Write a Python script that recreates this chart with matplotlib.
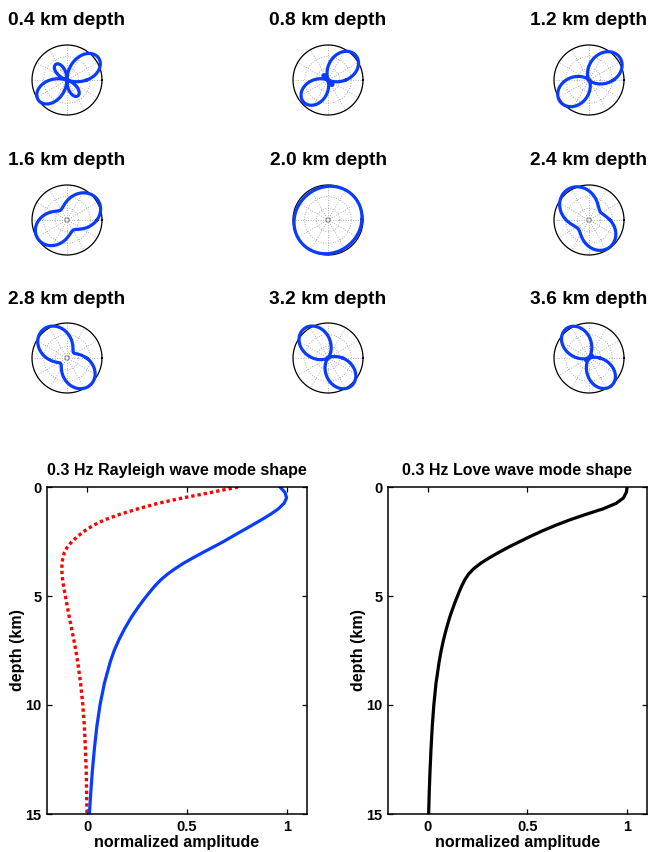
import numpy as np
import matplotlib
matplotlib.use("Agg")
import matplotlib.pyplot as plt

plt.rcParams['font.family'] = ['Liberation Sans', 'DejaVu Sans']
plt.rcParams['font.weight'] = 'bold'

# ---- azimuthal amplitude patterns (harmonic coefficients, unit = outer ring) ----
depth_labels = ["0.4 km depth", "0.8 km depth", "1.2 km depth",
                "1.6 km depth", "2.0 km depth", "2.4 km depth",
                "2.8 km depth", "3.2 km depth", "3.6 km depth"]
iso_term = [0.25, 0.40, 0.53, 0.68, 0.965, 0.71, 0.64, 0.52, 0.46]
quad_term = [0.80, 0.60, 0.53, 0.34, 0.035, 0.31, 0.40, 0.54, 0.58]
quad_azimuth = [35, 42, 37, 32, 42, 127, 130, 130, 128]
dip_term = [0.05, 0.06, 0.03, 0.03, 0.0, 0.045, 0.02, 0.02, 0.02]
dip_azimuth = [35, 42, 37, 30, 0, 127, 130, 130, 128]

# ---- 0.3 Hz mode shapes vs depth ----
depth_km = [0, 0.25, 0.5, 0.75, 1.0, 1.25, 1.5, 1.75, 2.0, 2.25, 2.5, 2.75,
            3.0, 3.25, 3.5, 3.75, 4.0, 4.25, 4.5, 4.75, 5.0, 5.25, 5.5, 5.75,
            6.0, 6.5, 7.0, 7.5, 8.0, 9.0, 10.0, 11.0, 12.0, 13.0, 14.0, 15.0]
rayleigh_a = [0.965, 0.99, 0.998, 0.985, 0.957, 0.918, 0.873, 0.826, 0.778,
              0.73, 0.683, 0.632, 0.58, 0.53, 0.482, 0.44, 0.402, 0.37, 0.343,
              0.32, 0.298, 0.277, 0.257, 0.238, 0.22, 0.188, 0.16, 0.136,
              0.117, 0.087, 0.065, 0.049, 0.037, 0.027, 0.019, 0.012]
rayleigh_b = [0.755, 0.62, 0.48, 0.355, 0.255, 0.165, 0.09, 0.033, -0.01,
              -0.045, -0.075, -0.098, -0.113, -0.121, -0.125, -0.126, -0.125,
              -0.122, -0.118, -0.113, -0.108, -0.103, -0.098, -0.093, -0.088,
              -0.077, -0.066, -0.056, -0.047, -0.032, -0.021, -0.013, -0.008,
              -0.004, -0.002, 0.0]
love = [1.0, 0.996, 0.982, 0.945, 0.88, 0.795, 0.715, 0.643, 0.578, 0.518,
        0.462, 0.407, 0.356, 0.308, 0.265, 0.23, 0.204, 0.186, 0.172, 0.16,
        0.149, 0.138, 0.128, 0.118, 0.109, 0.093, 0.079, 0.067, 0.057, 0.041,
        0.03, 0.022, 0.016, 0.011, 0.007, 0.004]

BLUE = '#0a3cff'
RED = '#ff0000'

W, H = 650, 852
fig = plt.figure(figsize=(W / 100, H / 100), dpi=100)


def px_rect(x0, y0, x1, y1):
    return [x0 / W, 1 - y1 / H, (x1 - x0) / W, (y1 - y0) / H]


col_x = [67, 328, 589]
row_y = [80, 220, 358]
baseline_y = [25, 165, 304]
R = 35.0   # outer ring radius in pixels
half = 44.0

theta = np.linspace(0, 2 * np.pi, 721)
for k in range(9):
    cx = col_x[k % 3]
    cy = row_y[k // 3]
    ax = fig.add_axes(px_rect(cx - half, cy - half, cx + half, cy + half))
    lim = half / R
    ax.set_xlim(-lim, lim)
    ax.set_ylim(-lim, lim)
    ax.set_aspect('equal')
    ax.axis('off')
    # polar grid
    for a in np.deg2rad(np.arange(0, 360, 30)):
        ax.plot([0.06 * np.cos(a), np.cos(a)], [0.06 * np.sin(a), np.sin(a)],
                ls=(0, (1, 2)), lw=0.6, color='#9a9a9a')
    for rr in (1 / 3, 2 / 3):
        ax.plot(rr * np.cos(theta), rr * np.sin(theta), ls=(0, (1, 2)),
                lw=0.6, color='#9a9a9a')
    ax.plot(0.06 * np.cos(theta), 0.06 * np.sin(theta), lw=0.6, color='#777777')
    ax.plot(np.cos(theta), np.sin(theta), lw=0.9, color='black')
    r = np.abs(iso_term[k]
               + quad_term[k] * np.cos(2 * (theta - np.deg2rad(quad_azimuth[k])))
               + dip_term[k] * np.cos(theta - np.deg2rad(dip_azimuth[k])))
    ax.plot(r * np.cos(theta), r * np.sin(theta), lw=2.3, color=BLUE,
            solid_joinstyle='round', clip_on=False)
    fig.text(cx / W, 1 - baseline_y[k // 3] / H, depth_labels[k],
             ha='center', va='baseline', fontsize=13.8, fontweight='bold')


def mode_axes(x0, x1, title, xlabel_x, ylabel_x):
    ax = fig.add_axes(px_rect(x0, 487, x1, 814))
    ax.set_xlim(-0.2, 1.1)
    ax.set_ylim(15, 0)
    ax.set_xticks([0, 0.5, 1])
    ax.set_xticklabels(['0', '0.5', '1'])
    ax.set_yticks([0, 5, 10, 15])
    ax.tick_params(direction='in', length=3.5, width=0.9, top=True, right=True,
                   labelsize=10.5, pad=4)
    for lab in ax.get_xticklabels() + ax.get_yticklabels():
        lab.set_fontweight('bold')
    for s in ax.spines.values():
        s.set_linewidth(1.1)
    fig.text((x0 + x1) / 2 / W, 1 - 475 / H, title, ha='center', va='baseline',
             fontsize=11.5, fontweight='bold')
    fig.text(xlabel_x / W, 1 - 847 / H, 'normalized amplitude', ha='center',
             va='baseline', fontsize=11.5, fontweight='bold')
    fig.text(ylabel_x / W, 1 - 650.5 / H, 'depth (km)', ha='center',
             va='center', rotation=90, fontsize=11.5, fontweight='bold')
    return ax


ax1 = mode_axes(47, 307, '0.3 Hz Rayleigh wave mode shape', 177, 18)
ax1.plot(rayleigh_b, depth_km, color=RED, lw=2.4, ls=(0, (1, 0.9)),
         dash_capstyle='butt', solid_joinstyle='round')
ax1.plot(rayleigh_a, depth_km, color=BLUE, lw=2.3, solid_joinstyle='round')

ax2 = mode_axes(388, 647, '0.3 Hz Love wave mode shape', 518, 358)
ax2.plot(love, depth_km, color='black', lw=2.3, solid_joinstyle='round')

fig.savefig('out.png', dpi=100)
